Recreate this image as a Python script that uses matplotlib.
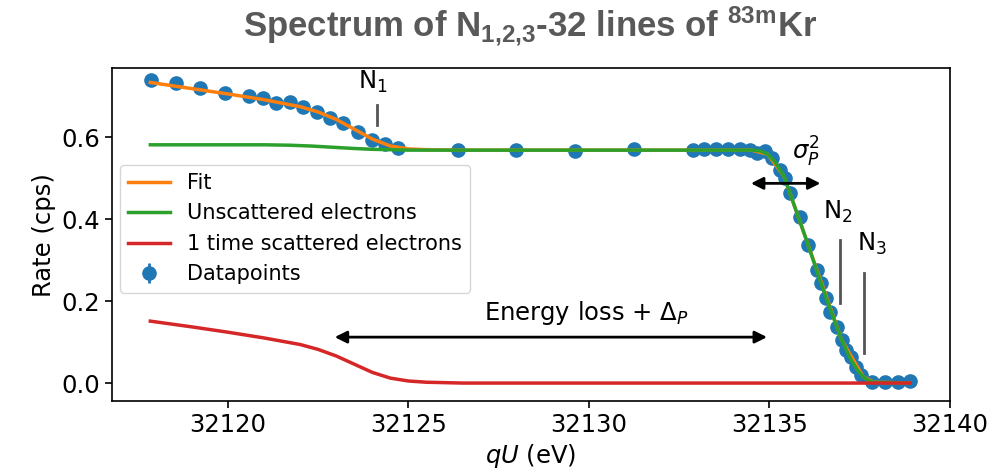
import matplotlib
matplotlib.use("Agg")
import matplotlib.pyplot as plt

# measured spectrum
qu_data = [32117.86, 32118.56, 32119.22, 32119.92, 32120.59, 32120.98, 32121.33, 32121.72,
           32122.07, 32122.46, 32122.83, 32123.19, 32123.61, 32123.98, 32124.35, 32124.72,
           32126.38, 32127.98, 32129.61, 32131.25, 32132.87,
           32133.19, 32133.52, 32133.86, 32134.18, 32134.46, 32134.65, 32134.88,
           32135.06, 32135.29, 32135.43, 32135.57, 32135.84, 32136.08, 32136.31, 32136.44,
           32136.57, 32136.68, 32136.86, 32137.00, 32137.13, 32137.27, 32137.41, 32137.55,
           32137.83, 32138.20, 32138.57, 32138.89]
rate_data = [0.739, 0.731, 0.719, 0.707, 0.701, 0.694, 0.682, 0.685,
             0.672, 0.662, 0.647, 0.633, 0.613, 0.593, 0.582, 0.572,
             0.568, 0.568, 0.566, 0.570, 0.569,
             0.570, 0.570, 0.570, 0.570, 0.568, 0.562, 0.566,
             0.548, 0.520, 0.499, 0.463, 0.406, 0.337, 0.276, 0.243,
             0.207, 0.174, 0.137, 0.105, 0.080, 0.064, 0.040, 0.020,
             0.002, 0.003, 0.003, 0.004]
rate_err = 0.006

# model curves
fit_x = [32117.85, 32119.0, 32120.0, 32121.0, 32122.0, 32122.5, 32123.0, 32123.5, 32124.0,
         32124.5, 32125.0, 32125.5, 32126.5, 32134.5, 32134.95, 32135.4, 32136.0, 32137.0,
         32137.6, 32137.9, 32138.9]
fit_y = [0.733, 0.718, 0.705, 0.691, 0.674, 0.661, 0.643, 0.619, 0.595,
         0.578, 0.571, 0.569, 0.568, 0.568, 0.558, 0.505, 0.355, 0.105,
         0.015, 0.002, 0.000]

unsc_x = [32117.85, 32121.0, 32121.7, 32122.3, 32122.9, 32123.5, 32124.0, 32124.5, 32125.0,
          32134.5, 32134.75, 32134.95, 32135.15, 32135.4, 32135.7, 32136.0, 32136.5, 32137.0,
          32137.25, 32137.45, 32137.6, 32137.75, 32137.9, 32138.9]
unsc_y = [0.581, 0.581, 0.580, 0.578, 0.575, 0.572, 0.570, 0.569, 0.568,
          0.568, 0.566, 0.558, 0.540, 0.505, 0.430, 0.355, 0.225, 0.105,
          0.058, 0.030, 0.015, 0.006, 0.002, 0.000]

scat_x = [32117.85, 32119.0, 32120.0, 32121.0, 32122.0, 32122.5, 32123.0, 32123.5, 32124.0,
          32124.5, 32125.0, 32125.5, 32126.5, 32138.9]
scat_y = [0.151, 0.137, 0.124, 0.110, 0.094, 0.082, 0.066, 0.046, 0.026,
          0.012, 0.005, 0.002, 0.000, 0.000]

# line markers (label, line x, text y, line from/to)
peaks = [
    ("N$_1$", 32124.12, 0.735, 0.678, 0.629),
    ("N$_2$", 32136.95, 0.418, 0.349, 0.195),
    ("N$_3$", 32137.62, 0.340, 0.268, 0.073),
]
peak_text_x = [32124.0, 32136.9, 32137.85]

fs = 17.5
plt.rcParams["font.size"] = fs
plt.rcParams["mathtext.fontset"] = "dejavusans"
plt.rcParams["mathtext.rm"] = "Liberation Sans:bold"
plt.rcParams["mathtext.bf"] = "Liberation Sans:bold"
plt.rcParams["mathtext.it"] = "Liberation Sans:bold:italic"

fig = plt.figure(figsize=(9.92, 4.73), dpi=100)
ax = fig.add_axes([0.1126, 0.152, 0.845, 0.704])

ax.errorbar(qu_data, rate_data, yerr=rate_err, fmt="o", color="#1f77b4", ms=9.5,
            elinewidth=2, label="Datapoints", zorder=2)
ax.plot(fit_x, fit_y, color="#ff7f0e", lw=2.5, label="Fit", zorder=3)
ax.plot(unsc_x, unsc_y, color="#2ca02c", lw=2.5, label="Unscattered electrons", zorder=3)
ax.plot(scat_x, scat_y, color="#d62728", lw=2.5, label="1 time scattered electrons", zorder=3)

for (lab, lx, ty, y0, y1), tx in zip(peaks, peak_text_x):
    ax.plot([lx, lx], [y0, y1], color="#555555", lw=2, zorder=4)
    ax.text(tx, ty, lab, ha="center", va="center", fontsize=fs)

# sigma_P arrow
ax.annotate("", xy=(32134.41, 0.487), xytext=(32136.49, 0.487),
            arrowprops=dict(arrowstyle="<|-|>", color="black", lw=2, mutation_scale=18))
ax.text(32136.0, 0.564, r"$\sigma_P^2$", ha="center", va="center", fontsize=fs)

# energy loss arrow
ax.annotate("", xy=(32122.88, 0.112), xytext=(32135.01, 0.112),
            arrowprops=dict(arrowstyle="<|-|>", color="black", lw=2, mutation_scale=18))
ax.text(32129.94, 0.171, r"Energy loss + $\Delta_P$", ha="center", va="center", fontsize=fs)

ax.set_xlim(32116.78, 32140.0)
ax.set_ylim(-0.044, 0.768)
ax.set_xticks([32120, 32125, 32130, 32135, 32140])
ax.set_yticks([0.0, 0.2, 0.4, 0.6])
ax.set_xlabel("$qU$ (eV)")
ax.set_ylabel("Rate (cps)")
ax.tick_params(width=1.2, length=5)
for s in ax.spines.values():
    s.set_linewidth(1.2)

ax.legend(loc="upper left", bbox_to_anchor=(0.01, 0.71), borderaxespad=0, fontsize=15)

fig.text(0.534, 0.945, r"Spectrum of N$_{\mathrm{1{,}2{,}3}}$-32 lines of $^{\mathrm{83m}}$Kr",
         ha="center", va="center", fontsize=25, color="#595959", fontweight="bold",
         family="Liberation Sans", math_fontfamily="custom")

fig.savefig("out.png", dpi=100)
